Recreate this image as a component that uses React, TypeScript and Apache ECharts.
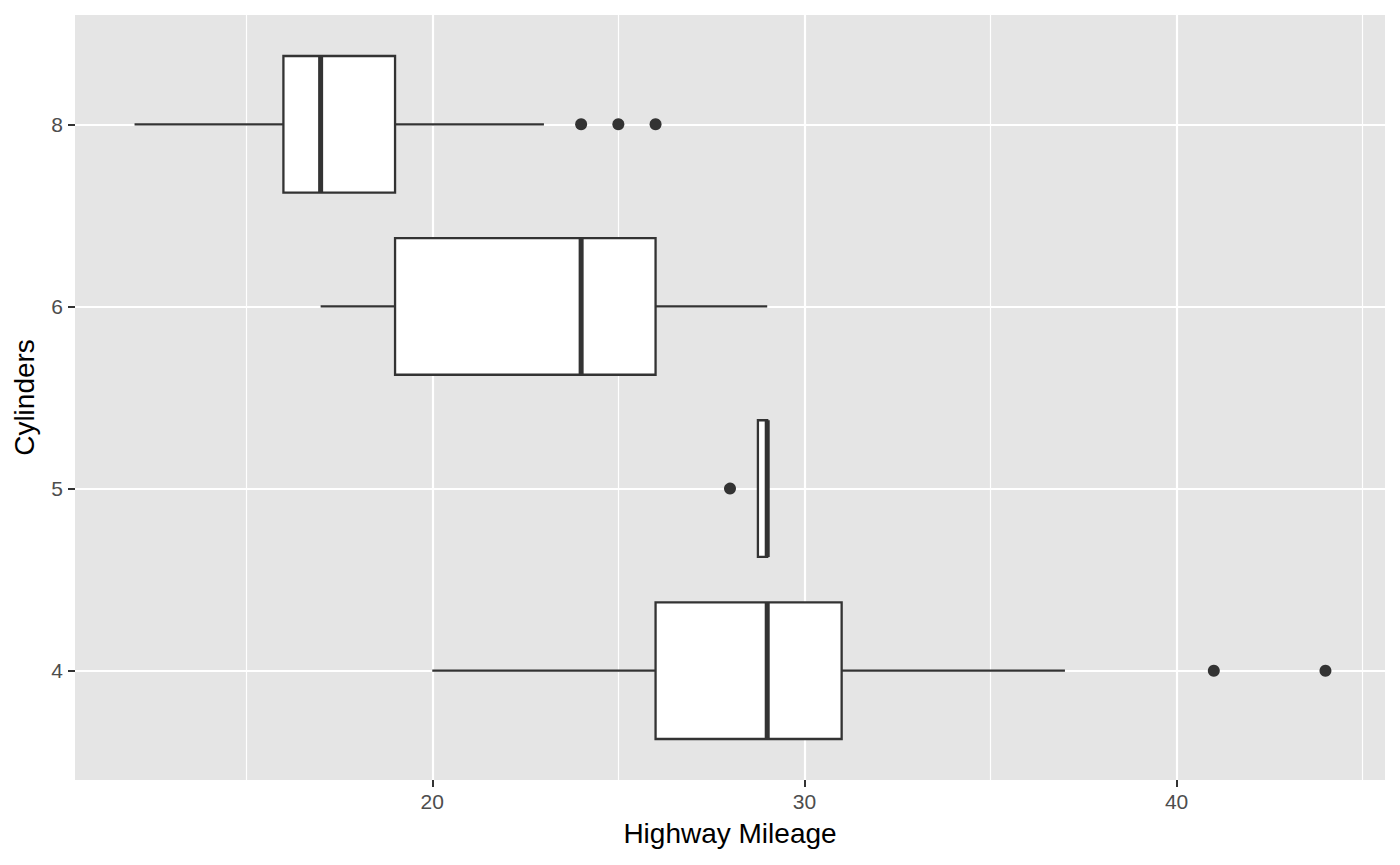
import React, { useEffect, useRef } from 'react';
import * as echarts from 'echarts';

// highway mileage by cylinder count (rows: 4, 5, 6, 8 cylinders)
const cylinders = ['4', '5', '6', '8'];
const whiskerLow = [20, 29, 17, 12];
const lowerQuartile = [26, 28.75, 19, 16];
const median = [29, 29, 24, 17];
const upperQuartile = [31, 29, 26, 19];
const whiskerHigh = [37, 29, 29, 23];

// outliers: [mileage, cylinders]
const outliers: Array<[number, string]> = [
  [41, '4'],
  [44, '4'],
  [28, '5'],
  [24, '8'],
  [25, '8'],
  [26, '8'],
];

const xMajorTicks = [20, 30, 40];
const xMinorTicks = [15, 25, 35, 45];

const FONT = '"Liberation Sans", Arial, Helvetica, sans-serif';
const INK = '#333333';

export default function App() {
  const chartRef = useRef<HTMLDivElement>(null);

  useEffect(() => {
    if (!chartRef.current) return;
    const chart = echarts.init(chartRef.current, undefined, { renderer: 'svg' });

    const pos = (c: string) => cylinders.indexOf(c) + 1;
    const yTicks = cylinders.map((_, i) => i + 1);

    const boxData = cylinders.map((_, i) => [
      i + 1,
      whiskerLow[i],
      lowerQuartile[i],
      median[i],
      upperQuartile[i],
      whiskerHigh[i],
    ]);

    const gridLine = (width: number) => ({ color: '#ffffff', width, type: 'solid' as const });

    const option: echarts.EChartsOption = {
      animation: false,
      backgroundColor: '#ffffff',
      grid: {
        left: 75,
        right: 15,
        top: 15,
        bottom: 85,
        show: true,
        backgroundColor: '#E5E5E5',
        borderWidth: 0,
      },
      xAxis: {
        type: 'value',
        min: 10.4,
        max: 45.6,
        name: 'Highway Mileage',
        nameLocation: 'middle',
        nameGap: 39,
        nameTextStyle: { color: '#000', fontSize: 28, fontFamily: FONT },
        axisLine: { show: false },
        axisTick: {
          show: true,
          length: 7,
          lineStyle: { color: INK, width: 2 },
          customValues: xMajorTicks,
        },
        axisLabel: {
          color: '#4D4D4D',
          fontSize: 21,
          fontFamily: FONT,
          margin: 11,
          customValues: xMajorTicks,
        },
        splitLine: { show: false },
      },
      yAxis: {
        type: 'value',
        min: 0.4,
        max: 4.6,
        name: 'Cylinders',
        nameLocation: 'middle',
        nameGap: 37,
        nameTextStyle: { color: '#000', fontSize: 28, fontFamily: FONT },
        axisLine: { show: false },
        axisTick: {
          show: true,
          length: 7,
          lineStyle: { color: INK, width: 2 },
          customValues: yTicks,
        },
        axisLabel: {
          color: '#4D4D4D',
          fontSize: 21,
          fontFamily: FONT,
          margin: 12,
          customValues: yTicks,
          formatter: (v: number) => cylinders[Math.round(v) - 1] ?? '',
        },
        splitLine: { show: false },
      },
      series: [
        {
          // panel grid lines
          type: 'line',
          data: [],
          z: 1,
          silent: true,
          markLine: {
            silent: true,
            symbol: 'none',
            label: { show: false },
            animation: false,
            data: [
              ...xMinorTicks.map((v) => ({ xAxis: v, lineStyle: gridLine(1.2) })),
              ...xMajorTicks.map((v) => ({ xAxis: v, lineStyle: gridLine(2.2) })),
              ...yTicks.map((v) => ({ yAxis: v, lineStyle: gridLine(2.2) })),
            ],
          },
        },
        {
          type: 'custom',
          z: 10,
          data: boxData,
          encode: { x: [1, 2, 3, 4, 5], y: 0 },
          renderItem: (params: any, api: any) => {
            const y = api.value(0);
            const half = api.size([0, 1])[1] * 0.375;
            const pLow = api.coord([api.value(1), y]);
            const pQ1 = api.coord([api.value(2), y]);
            const pMed = api.coord([api.value(3), y]);
            const pQ3 = api.coord([api.value(4), y]);
            const pHigh = api.coord([api.value(5), y]);
            const cy = pMed[1];
            const stroke = { stroke: INK, lineWidth: 2.3 };
            return {
              type: 'group',
              children: [
                { type: 'line', shape: { x1: pLow[0], y1: cy, x2: pQ1[0], y2: cy }, style: stroke },
                { type: 'line', shape: { x1: pQ3[0], y1: cy, x2: pHigh[0], y2: cy }, style: stroke },
                {
                  type: 'rect',
                  shape: { x: pQ1[0], y: cy - half, width: pQ3[0] - pQ1[0], height: half * 2 },
                  style: { fill: '#ffffff', stroke: INK, lineWidth: 2.3 },
                },
                {
                  type: 'line',
                  shape: { x1: pMed[0], y1: cy - half, x2: pMed[0], y2: cy + half },
                  style: { stroke: INK, lineWidth: 5 },
                },
              ],
            };
          },
        },
        {
          type: 'scatter',
          z: 11,
          symbol: 'circle',
          symbolSize: 12,
          itemStyle: { color: INK, opacity: 1 },
          data: outliers.map(([v, c]) => [v, pos(c)]),
        },
      ],
    };

    chart.setOption(option);
    return () => chart.dispose();
  }, []);

  return (
    <div
      ref={chartRef}
      style={{ position: 'fixed', left: 0, top: 0, width: 1400, height: 865 }}
    />
  );
}
